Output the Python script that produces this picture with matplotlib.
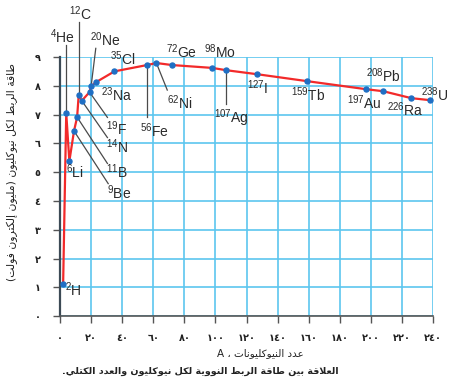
import numpy as np
import matplotlib
matplotlib.use("Agg")
import matplotlib.pyplot as plt

plt.rcParams['font.family'] = ['Liberation Sans', 'DejaVu Sans']
plt.rcParams['mathtext.fontset'] = 'custom'
plt.rcParams['mathtext.rm'] = 'Liberation Sans'
plt.rcParams['mathtext.it'] = 'Liberation Sans'

# nuclides: mass number, symbol, binding energy per nucleon (MeV)
mass = [2, 4, 6, 9, 11, 12, 14, 19, 20, 23, 35, 56, 62, 72, 98, 107, 127, 159, 197, 208, 226, 238]
symbol = ['H', 'He', 'Li', 'Be', 'B', 'C', 'N', 'F', 'Ne', 'Na', 'Cl', 'Fe', 'Ni', 'Ge', 'Mo', 'Ag',
          'I', 'Tb', 'Au', 'Pb', 'Ra', 'U']
energy = [1.11, 7.05, 5.38, 6.43, 6.91, 7.67, 7.48, 7.78, 7.98, 8.12, 8.5, 8.72, 8.79, 8.72, 8.62,
          8.54, 8.4, 8.16, 7.88, 7.81, 7.57, 7.5]

x_ticks = list(range(0, 241, 20))
y_ticks = list(range(0, 10))

y_label = "طاقة الربط لكل نيوكليون (مليون إلكترون فولت)"
x_label = "عدد النيوكليونات ، A"
caption = "العلاقة بين طاقة الربط النووية لكل نيوكليون والعدد الكتلي."

# label position (A, E) for each nuclide and whether it has a leader line
label_pos = {
    'H': (8.5, 0.9, False), 'He': (1.5, 9.7, True), 'Li': (9.6, 5.0, False),
    'Be': (38, 4.3, True), 'B': (36.5, 5.0, True), 'C': (13, 10.5, True),
    'N': (36.5, 5.9, True), 'F': (36.5, 6.5, True), 'Ne': (29, 9.6, True),
    'Na': (36.5, 7.7, False), 'Cl': (40.5, 8.93, False), 'Fe': (60.5, 6.45, True),
    'Ni': (77, 7.4, True), 'Ge': (78.5, 9.17, False), 'Mo': (103, 9.2, False),
    'Ag': (110, 6.88, True), 'I': (127, 7.92, False), 'Tb': (159.5, 7.7, False),
    'Au': (196, 7.4, False), 'Pb': (208, 8.34, False), 'Ra': (222, 7.16, False),
    'U': (241, 7.7, False),
}
# where the leader line ends, near the label
leader_end = {
    'He': (4, 9.4), 'C': (12, 10.2), 'Ne': (23, 9.3), 'F': (30.5, 6.9), 'N': (30.5, 6.2),
    'Be': (31, 4.6), 'B': (30.5, 5.3), 'Fe': (56, 6.9), 'Ni': (69, 7.85), 'Ag': (107, 7.35),
}

dual = {'ب': 0xFE8F, 'ت': 0xFE95, 'ث': 0xFE99, 'ج': 0xFE9D, 'ح': 0xFEA1, 'خ': 0xFEA5,
        'س': 0xFEB1, 'ش': 0xFEB5, 'ص': 0xFEB9, 'ض': 0xFEBD, 'ط': 0xFEC1, 'ظ': 0xFEC5,
        'ع': 0xFEC9, 'غ': 0xFECD, 'ف': 0xFED1, 'ق': 0xFED5, 'ك': 0xFED9, 'ل': 0xFEDD,
        'م': 0xFEE1, 'ن': 0xFEE5, 'ه': 0xFEE9, 'ي': 0xFEF1, 'ئ': 0xFE89}
right = {'ا': 0xFE8D, 'أ': 0xFE83, 'إ': 0xFE87, 'آ': 0xFE81, 'د': 0xFEA9, 'ذ': 0xFEAB,
         'ر': 0xFEAD, 'ز': 0xFEAF, 'و': 0xFEED, 'ة': 0xFE93, 'ى': 0xFEEF, 'ؤ': 0xFE85}
lamalef = {'ا': 0xFEFB, 'أ': 0xFEF7, 'إ': 0xFEF9, 'آ': 0xFEF5}
mirror = {'(': ')', ')': '('}


def shape(s):
    # contextual forms + right-to-left order, since matplotlib does no shaping
    out = []
    i = 0
    while i < len(s):
        c = s[i]
        prev = s[i-1] if i > 0 else ''
        nxt = s[i+1] if i+1 < len(s) else ''
        if c == 'ل' and nxt in lamalef:
            out.append(chr(lamalef[nxt] + (1 if prev in dual else 0)))
            i += 2
            continue
        if c in dual or c in right:
            p = prev in dual
            n = c in dual and (nxt in dual or nxt in right)
            base = dual.get(c, right.get(c))
            off = 3 if (p and n) else 1 if p else 2 if n else 0
            out.append(chr(base + off))
        else:
            out.append(mirror.get(c, c))
        i += 1
    return ''.join(reversed(out))


def ar_digits(v):
    return ''.join(chr(0x0660 + int(d)) for d in str(v))


fig = plt.figure(figsize=(4.53, 3.85), dpi=100)
ax = fig.add_axes([0.1325, 0.179, 0.8235, 0.673])

ax.plot(mass, energy, color='#f22a2a', lw=1.6, zorder=3)
ax.plot(mass, energy, 'o', color='#1f6fc4', ms=3.6, zorder=4)

for a, s, e in zip(mass, symbol, energy):
    lx, ly, lead = label_pos[s]
    ax.text(lx, ly, r'$^{%d}$%s' % (a, s), fontsize=10, color='#2a2a2a',
            ha='center', va='center', clip_on=False, zorder=5)
    if lead:
        ex, ey = leader_end[s]
        ax.plot([a, ex], [e, ey], color='#4a4a4a', lw=0.9, clip_on=False, zorder=2)

ax.set_xlim(0, 240)
ax.set_ylim(0, 9)
ax.set_xticks(x_ticks)
ax.set_yticks(y_ticks)
ax.set_xticklabels([ar_digits(v) for v in x_ticks], family='DejaVu Sans', fontsize=7, fontweight='bold')
ax.set_yticklabels([ar_digits(v) for v in y_ticks], family='DejaVu Sans', fontsize=7, fontweight='bold')
ax.tick_params(axis='both', direction='out', length=5, width=1, color='#555555', colors='#222222')
ax.tick_params(axis='x', pad=7)
ax.tick_params(axis='y', pad=9)
ax.grid(True, color='#5cc6ef', lw=1.2, zorder=0)
ax.set_axisbelow(True)
for side in ['top', 'right']:
    ax.spines[side].set_visible(False)
ax.spines['left'].set_color('#3c4a55')
ax.spines['left'].set_linewidth(1.6)
ax.spines['bottom'].set_color('#555555')
ax.spines['bottom'].set_linewidth(1.2)

fig.text(12/453, 1 - 172/385, shape(y_label), rotation=90, ha='center', va='center',
         family='DejaVu Sans', fontsize=7.8, color='#222222')
fig.text(260/453, 1 - 353/385, shape(x_label), ha='center', va='center',
         family='DejaVu Sans', fontsize=7.5, color='#222222')
fig.text(200/453, 1 - 371/385, shape(caption), ha='center', va='center',
         family='DejaVu Sans', fontsize=6.8, fontweight='bold', color='#222222')

fig.savefig('out.png', dpi=100)
